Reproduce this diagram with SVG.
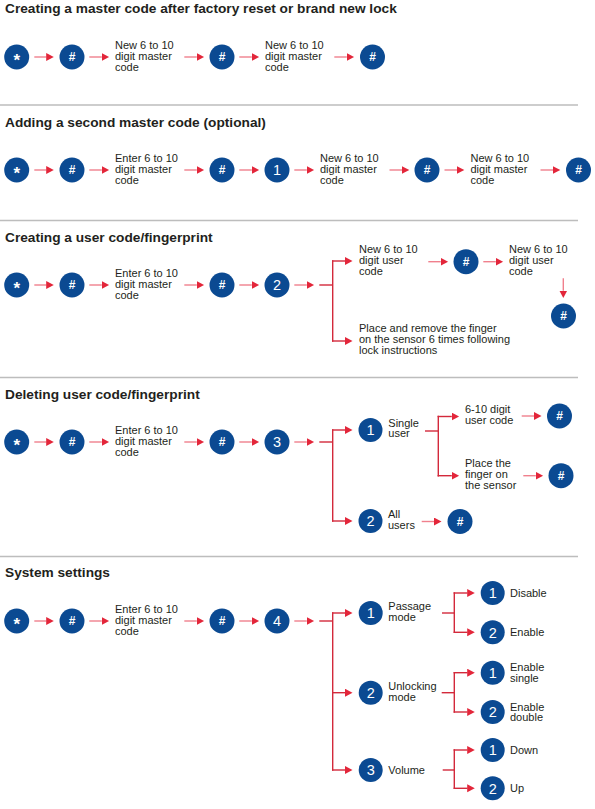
<svg xmlns="http://www.w3.org/2000/svg" width="595" height="809" viewBox="0 0 595 809">
<style>
.h{font-family:"Liberation Sans",Arial,sans-serif;font-weight:bold;font-size:13.7px;fill:#231f20}
.t{font-family:"Liberation Sans",Arial,sans-serif;font-size:11px;fill:#231f20}
.c{fill:#0b4a92}
.hash{font-family:"Liberation Sans",Arial,sans-serif;font-weight:bold;font-size:12px;fill:#fff;text-anchor:middle}
.star{font-family:"Liberation Sans",Arial,sans-serif;font-weight:bold;font-size:17px;fill:#fff;text-anchor:middle}
.num{font-family:"Liberation Sans",Arial,sans-serif;font-size:14.5px;fill:#fff;text-anchor:middle}
.a{stroke:#f0808d;stroke-width:1.4;fill:none}
.r{stroke:#d3293b;stroke-width:1.4;fill:none}
.sep{stroke:#bdbdbd;stroke-width:1.3}
</style>
<defs>
<marker id="ah" markerWidth="8" markerHeight="9" refX="0.3" refY="4" orient="auto" markerUnits="userSpaceOnUse"><path d="M0,0 L7.6,4 L0,8 z" fill="#e3263a"/></marker>
<symbol id="hashc" overflow="visible"><circle class="c" r="12.5"/><text class="hash" y="4.3">#</text></symbol>
</defs>

<g id="separators">
<line class="sep" x1="0" y1="105" x2="578" y2="105"/>
<line class="sep" x1="0" y1="220.5" x2="578" y2="220.5"/>
<line class="sep" x1="0" y1="377.5" x2="578" y2="377.5"/>
<line class="sep" x1="0" y1="556.5" x2="578" y2="556.5"/>
</g>
<g id="headings">
<text class="h" x="5" y="13.3">Creating a master code after factory reset or brand new lock</text>
<text class="h" x="5" y="126.7">Adding a second master code (optional)</text>
<text class="h" x="5" y="241.7">Creating a user code/fingerprint</text>
<text class="h" x="5" y="399.3">Deleting user code/fingerprint</text>
<text class="h" x="5" y="576.7">System settings</text>
</g>

<g id="connectors">
<line class="a" x1="34.3" y1="57" x2="46.5" y2="57" marker-end="url(#ah)"/>
<line class="a" x1="89.3" y1="57" x2="101.8" y2="57" marker-end="url(#ah)"/>
<line class="a" x1="184.3" y1="57" x2="196.8" y2="57" marker-end="url(#ah)"/>
<line class="a" x1="239.3" y1="57" x2="251.8" y2="57" marker-end="url(#ah)"/>
<line class="a" x1="334.3" y1="57" x2="346.8" y2="57" marker-end="url(#ah)"/>
<line class="a" x1="34.3" y1="170" x2="46.5" y2="170" marker-end="url(#ah)"/>
<line class="a" x1="89.3" y1="170" x2="101.8" y2="170" marker-end="url(#ah)"/>
<line class="a" x1="184.3" y1="170" x2="196.8" y2="170" marker-end="url(#ah)"/>
<line class="a" x1="239.3" y1="170" x2="251.8" y2="170" marker-end="url(#ah)"/>
<line class="a" x1="294.3" y1="170" x2="306.8" y2="170" marker-end="url(#ah)"/>
<line class="a" x1="389.5" y1="170" x2="402" y2="170" marker-end="url(#ah)"/>
<line class="a" x1="444.5" y1="170" x2="457" y2="170" marker-end="url(#ah)"/>
<line class="a" x1="540.5" y1="170" x2="553" y2="170" marker-end="url(#ah)"/>
<line class="a" x1="34.3" y1="285" x2="46.5" y2="285" marker-end="url(#ah)"/>
<line class="a" x1="89.3" y1="285" x2="101.8" y2="285" marker-end="url(#ah)"/>
<line class="a" x1="184.3" y1="285" x2="196.8" y2="285" marker-end="url(#ah)"/>
<line class="a" x1="239.3" y1="285" x2="251.8" y2="285" marker-end="url(#ah)"/>
<line class="a" x1="294.3" y1="285" x2="306.8" y2="285" marker-end="url(#ah)"/>
<line class="r" x1="319.3" y1="285" x2="332.7" y2="285"/>
<line class="r" x1="332.7" y1="260.3" x2="332.7" y2="341.7"/>
<line class="r" x1="332" y1="261" x2="345.2" y2="261" marker-end="url(#ah)"/>
<line class="r" x1="332" y1="341" x2="345.2" y2="341" marker-end="url(#ah)"/>
<line class="a" x1="428.3" y1="261.7" x2="440.8" y2="261.7" marker-end="url(#ah)"/>
<line class="a" x1="483.3" y1="261.7" x2="495.8" y2="261.7" marker-end="url(#ah)"/>
<line class="a" x1="563.3" y1="278.3" x2="563.3" y2="290.8" marker-end="url(#ah)"/>
<line class="a" x1="34.3" y1="442" x2="46.5" y2="442" marker-end="url(#ah)"/>
<line class="a" x1="89.3" y1="442" x2="101.8" y2="442" marker-end="url(#ah)"/>
<line class="a" x1="184.3" y1="442" x2="196.8" y2="442" marker-end="url(#ah)"/>
<line class="a" x1="239.3" y1="442" x2="251.8" y2="442" marker-end="url(#ah)"/>
<line class="a" x1="294.3" y1="442" x2="306.8" y2="442" marker-end="url(#ah)"/>
<line class="r" x1="319.3" y1="442" x2="332.7" y2="442"/>
<line class="r" x1="332.7" y1="429.3" x2="332.7" y2="521.7"/>
<line class="r" x1="332" y1="430" x2="345.2" y2="430" marker-end="url(#ah)"/>
<line class="r" x1="332" y1="521" x2="345.2" y2="521" marker-end="url(#ah)"/>
<line class="r" x1="425" y1="431" x2="438.3" y2="431"/>
<line class="r" x1="438.3" y1="415.8" x2="438.3" y2="476.4"/>
<line class="r" x1="437.6" y1="416.5" x2="451.8" y2="416.5" marker-end="url(#ah)"/>
<line class="r" x1="437.6" y1="475.7" x2="451.8" y2="475.7" marker-end="url(#ah)"/>
<line class="a" x1="521.7" y1="416" x2="534.2" y2="416" marker-end="url(#ah)"/>
<line class="a" x1="523.3" y1="475.7" x2="535.8" y2="475.7" marker-end="url(#ah)"/>
<line class="a" x1="421.7" y1="521.5" x2="434.2" y2="521.5" marker-end="url(#ah)"/>
<line class="a" x1="34.3" y1="621" x2="46.5" y2="621" marker-end="url(#ah)"/>
<line class="a" x1="89.3" y1="621" x2="101.8" y2="621" marker-end="url(#ah)"/>
<line class="a" x1="184.3" y1="621" x2="196.8" y2="621" marker-end="url(#ah)"/>
<line class="a" x1="239.3" y1="621" x2="251.8" y2="621" marker-end="url(#ah)"/>
<line class="a" x1="294.3" y1="621" x2="306.8" y2="621" marker-end="url(#ah)"/>
<line class="r" x1="319.3" y1="621" x2="332.7" y2="621"/>
<line class="r" x1="332.7" y1="612.3" x2="332.7" y2="770.7"/>
<line class="r" x1="332" y1="613" x2="345.2" y2="613" marker-end="url(#ah)"/>
<line class="r" x1="332" y1="692.7" x2="345.2" y2="692.7" marker-end="url(#ah)"/>
<line class="r" x1="332" y1="770" x2="345.2" y2="770" marker-end="url(#ah)"/>
<line class="r" x1="442" y1="613" x2="454.3" y2="613"/>
<line class="r" x1="454.3" y1="592.3" x2="454.3" y2="633"/>
<line class="r" x1="453.6" y1="593" x2="467.5" y2="593" marker-end="url(#ah)"/>
<line class="r" x1="453.6" y1="632.3" x2="467.5" y2="632.3" marker-end="url(#ah)"/>
<line class="r" x1="441.7" y1="692.7" x2="454.3" y2="692.7"/>
<line class="r" x1="454.3" y1="672" x2="454.3" y2="712.7"/>
<line class="r" x1="453.6" y1="672.7" x2="467.5" y2="672.7" marker-end="url(#ah)"/>
<line class="r" x1="453.6" y1="712" x2="467.5" y2="712" marker-end="url(#ah)"/>
<line class="r" x1="442.7" y1="770" x2="454.3" y2="770"/>
<line class="r" x1="454.3" y1="749.3" x2="454.3" y2="789"/>
<line class="r" x1="453.6" y1="750" x2="467.5" y2="750" marker-end="url(#ah)"/>
<line class="r" x1="453.6" y1="788.3" x2="467.5" y2="788.3" marker-end="url(#ah)"/>
</g>

<g id="s1-star"><circle class="c" cx="16.7" cy="57" r="12.5"/><text class="star" x="16.7" y="66">*</text></g>
<g id="s1-hash1"><use href="#hashc" x="72" y="57"/></g>
<g id="s1-text1"><text class="t"><tspan x="115" y="49">New 6 to 10</tspan><tspan x="115" y="60">digit master</tspan><tspan x="115" y="70.8">code</tspan></text></g>
<g id="s1-hash2"><use href="#hashc" x="222" y="57"/></g>
<g id="s1-text2"><text class="t"><tspan x="265" y="49">New 6 to 10</tspan><tspan x="265" y="60">digit master</tspan><tspan x="265" y="70.8">code</tspan></text></g>
<g id="s1-hash3"><use href="#hashc" x="372.5" y="57"/></g>

<g id="s2-star"><circle class="c" cx="16.7" cy="170" r="12.5"/><text class="star" x="16.7" y="179">*</text></g>
<g id="s2-hash1"><use href="#hashc" x="72" y="170"/></g>
<g id="s2-text1"><text class="t"><tspan x="115" y="162">Enter 6 to 10</tspan><tspan x="115" y="173">digit master</tspan><tspan x="115" y="183.8">code</tspan></text></g>
<g id="s2-hash2"><use href="#hashc" x="222" y="170"/></g>
<g id="s2-one"><circle class="c" cx="277" cy="170" r="12.5"/><text class="num" x="277" y="175.3">1</text></g>
<g id="s2-text2"><text class="t"><tspan x="320" y="162">New 6 to 10</tspan><tspan x="320" y="173">digit master</tspan><tspan x="320" y="183.8">code</tspan></text></g>
<g id="s2-hash3"><use href="#hashc" x="427" y="170"/></g>
<g id="s2-text3"><text class="t"><tspan x="470.5" y="162">New 6 to 10</tspan><tspan x="470.5" y="173">digit master</tspan><tspan x="470.5" y="183.8">code</tspan></text></g>
<g id="s2-hash4"><use href="#hashc" x="578.5" y="170"/></g>

<g id="s3-star"><circle class="c" cx="16.7" cy="285" r="12.5"/><text class="star" x="16.7" y="294">*</text></g>
<g id="s3-hash1"><use href="#hashc" x="72" y="285"/></g>
<g id="s3-text1"><text class="t"><tspan x="115" y="277">Enter 6 to 10</tspan><tspan x="115" y="288">digit master</tspan><tspan x="115" y="298.8">code</tspan></text></g>
<g id="s3-hash2"><use href="#hashc" x="222" y="285"/></g>
<g id="s3-two"><circle class="c" cx="277" cy="285" r="12.5"/><text class="num" x="277" y="290.3">2</text></g>
<g id="s3-text2"><text class="t"><tspan x="359" y="253.3">New 6 to 10</tspan><tspan x="359" y="264.3">digit user</tspan><tspan x="359" y="275.1">code</tspan></text></g>
<g id="s3-hash3"><use href="#hashc" x="466" y="261.7"/></g>
<g id="s3-text3"><text class="t"><tspan x="509" y="253.3">New 6 to 10</tspan><tspan x="509" y="264.3">digit user</tspan><tspan x="509" y="275.1">code</tspan></text></g>
<g id="s3-hash4"><use href="#hashc" x="563.5" y="316"/></g>
<g id="s3-text4"><text class="t"><tspan x="359" y="332.3">Place and remove the finger</tspan><tspan x="359" y="343.3">on the sensor 6 times following</tspan><tspan x="359" y="354.1">lock instructions</tspan></text></g>

<g id="s4-star"><circle class="c" cx="16.7" cy="442" r="12.5"/><text class="star" x="16.7" y="451">*</text></g>
<g id="s4-hash1"><use href="#hashc" x="72" y="442"/></g>
<g id="s4-text1"><text class="t"><tspan x="115" y="434">Enter 6 to 10</tspan><tspan x="115" y="445">digit master</tspan><tspan x="115" y="455.8">code</tspan></text></g>
<g id="s4-hash2"><use href="#hashc" x="222" y="442"/></g>
<g id="s4-three"><circle class="c" cx="277" cy="442" r="12.5"/><text class="num" x="277" y="447.3">3</text></g>
<g id="s4-one"><circle class="c" cx="370.5" cy="430" r="12"/><text class="num" x="370.5" y="435.3">1</text><text class="t"><tspan x="388.3" y="426.5">Single</tspan><tspan x="388.3" y="437.4">user</tspan></text></g>
<g id="s4-text2"><text class="t"><tspan x="465" y="413.3">6-10 digit</tspan><tspan x="465" y="424.3">user code</tspan></text></g>
<g id="s4-hash3"><use href="#hashc" x="559.5" y="416"/></g>
<g id="s4-text3"><text class="t"><tspan x="465" y="467.3">Place the</tspan><tspan x="465" y="478.3">finger on</tspan><tspan x="465" y="489.1">the sensor</tspan></text></g>
<g id="s4-hash4"><use href="#hashc" x="561" y="475.7"/></g>
<g id="s4-two"><circle class="c" cx="370.5" cy="521" r="12"/><text class="num" x="370.5" y="526.3">2</text><text class="t"><tspan x="388" y="518">All</tspan><tspan x="388" y="528.9">users</tspan></text></g>
<g id="s4-hash5"><use href="#hashc" x="460" y="521.5"/></g>

<g id="s5-star"><circle class="c" cx="16.7" cy="621" r="12.5"/><text class="star" x="16.7" y="630">*</text></g>
<g id="s5-hash1"><use href="#hashc" x="72" y="621"/></g>
<g id="s5-text1"><text class="t"><tspan x="115" y="613">Enter 6 to 10</tspan><tspan x="115" y="624">digit master</tspan><tspan x="115" y="634.8">code</tspan></text></g>
<g id="s5-hash2"><use href="#hashc" x="222" y="621"/></g>
<g id="s5-four"><circle class="c" cx="277" cy="621" r="12.5"/><text class="num" x="277" y="626.3">4</text></g>
<g id="s5-passage"><circle class="c" cx="370.7" cy="613" r="12"/><text class="num" x="370.7" y="618.3">1</text><text class="t"><tspan x="388.3" y="610.3">Passage</tspan><tspan x="388.3" y="621.2">mode</tspan></text></g>
<g id="s5-disable"><circle class="c" cx="492.7" cy="593" r="12"/><text class="num" x="492.7" y="598.3">1</text><text class="t" x="510" y="597">Disable</text></g>
<g id="s5-enable"><circle class="c" cx="492.7" cy="632.3" r="12"/><text class="num" x="492.7" y="637.6">2</text><text class="t" x="510" y="636.3">Enable</text></g>
<g id="s5-unlocking"><circle class="c" cx="370.7" cy="692.7" r="12"/><text class="num" x="370.7" y="698">2</text><text class="t"><tspan x="388.3" y="690">Unlocking</tspan><tspan x="388.3" y="700.9">mode</tspan></text></g>
<g id="s5-single"><circle class="c" cx="492.7" cy="672.7" r="12"/><text class="num" x="492.7" y="678">1</text><text class="t"><tspan x="510" y="671">Enable</tspan><tspan x="510" y="681.9">single</tspan></text></g>
<g id="s5-double"><circle class="c" cx="492.7" cy="712" r="12"/><text class="num" x="492.7" y="717.3">2</text><text class="t"><tspan x="510" y="710.5">Enable</tspan><tspan x="510" y="721.4">double</tspan></text></g>
<g id="s5-volume"><circle class="c" cx="370.7" cy="770" r="12"/><text class="num" x="370.7" y="775.3">3</text><text class="t" x="388.3" y="774">Volume</text></g>
<g id="s5-down"><circle class="c" cx="492.7" cy="750" r="12"/><text class="num" x="492.7" y="755.3">1</text><text class="t" x="510" y="754">Down</text></g>
<g id="s5-up"><circle class="c" cx="492.7" cy="788.3" r="12"/><text class="num" x="492.7" y="793.6">2</text><text class="t" x="510" y="791.8">Up</text></g>
</svg>
